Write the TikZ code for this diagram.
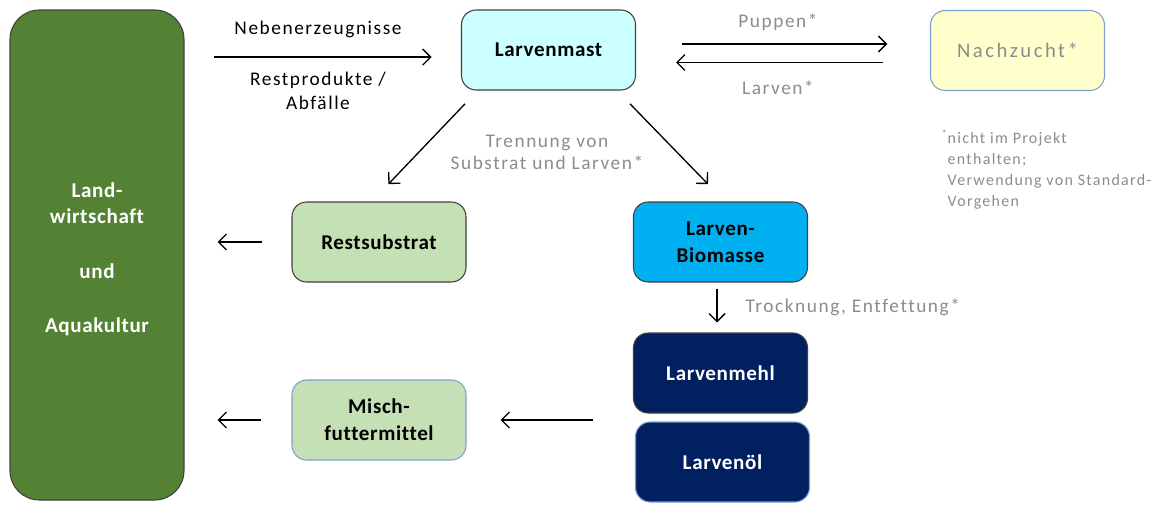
\documentclass[tikz,border=0pt]{standalone}
\usepackage{fontspec}
\setmainfont{Carlito}
\newfontfamily\thinfont[LetterSpace=8,Ligatures=NoCommon]{Carlito}
\newfontfamily\widefont[LetterSpace=12,Ligatures=NoCommon]{Carlito}
\newfontfamily\boxfont[LetterSpace=3,Ligatures=NoCommon]{Carlito}
\usetikzlibrary{arrows.meta}
\definecolor{landgreen}{HTML}{548235}
\definecolor{mastcyan}{HTML}{CCFFFF}
\definecolor{zuchtyellow}{HTML}{FFFFCC}
\definecolor{restgreen}{HTML}{C5E0B4}
\definecolor{bioblue}{HTML}{00B0F0}
\definecolor{mehlblue}{HTML}{002060}
\definecolor{boxline}{HTML}{404040}
\definecolor{lightline}{HTML}{7F9FD0}
\definecolor{labelgray}{HTML}{8C8C8C}
\tikzset{
  box/.style={draw=boxline, line width=0.8pt, rounded corners=11pt,
    minimum width=130.5pt, minimum height=60pt, align=center,
    font=\boxfont\bfseries\fontsize{15.8}{20.5}\selectfont},
  arr/.style={-{Straight Barb[length=6pt,width=12pt]}, line width=1pt},
  lbl/.style={font=\thinfont\fontsize{14.5}{18}\selectfont, align=center},
  graylbl/.style={lbl, text=labelgray},
}
\begin{document}
\begin{tikzpicture}[x=0.75pt, y=-0.75pt]
\useasboundingbox (0,0) rectangle (1154,504);

\node[box, fill=landgreen, rounded corners=22pt, minimum height=367.5pt] (land) at (97,255) {};
\node[box, draw=none, text=white, font=\boxfont\bfseries\fontsize{15.8}{19.5}\selectfont] (landtxt) at (97,259.5)
  {Land-\\wirtschaft\\[21.5pt]und\\[21.5pt]Aquakultur};
\node[box, fill=mastcyan] (mast) at (548.5,50) {Larvenmast};
\node[box, fill=zuchtyellow, draw=lightline, text=labelgray, font=\widefont\fontsize{15.5}{20.5}\selectfont] (zucht) at (1017.5,50.5) {Nachzucht*};
\node[box, fill=restgreen] (rest) at (379,242) {Restsubstrat};
\node[box, fill=bioblue] (bio) at (720.5,242) {Larven-\\Biomasse};
\node[box, fill=mehlblue, text=white] (mehl) at (720.5,373) {Larvenmehl};
\node[box, fill=mehlblue, draw=lightline, text=white] (oel) at (722.5,462) {Larvenöl};
\node[box, fill=restgreen, draw=lightline] (misch) at (379,420) {Misch-\\futtermittel};

% Zufluss
\draw[arr] ([xshift=22pt]land.east |- 0,57) -- ([xshift=-22pt]mast.west |- 0,57);
\node[lbl] (neben) at (318,29) {Nebenerzeugnisse};
\node[lbl] (abfall) at (318,91) {Restprodukte /\\Abfälle};

% Nachzucht
\draw[arr, shorten <=34.5pt, shorten >=32pt] ([yshift=4.5pt]mast.east) -- ([yshift=4.5pt]mast.east -| zucht.west);
\draw[arr, shorten <=35pt, shorten >=30pt] ([yshift=-9pt]zucht.west) -- ([yshift=-9pt]zucht.west -| mast.east);
\node[graylbl] (puppen) at (778,22) {Puppen*};
\node[graylbl] (larven) at (778,88) {Larven*};

% Trennung
\draw[arr] ([xshift=3pt,yshift=-10pt]mast.south west) -- ([xshift=7pt,yshift=13pt]rest.north);
\draw[arr] ([xshift=-4.5pt,yshift=-10pt]mast.south east) -- ([xshift=-9.4pt,yshift=13pt]bio.north);
\node[graylbl, font=\thinfont\fontsize{14.5}{16.5}\selectfont] (trenn) at (547,152) {Trennung von\\Substrat und Larven*};

\draw[arr, shorten <=21.75pt, shorten >=24.75pt] (rest.west) -- (rest.west -| land.east);
\draw[arr, shorten <=5pt, shorten >=7.5pt] ([xshift=-2.6pt]bio.south) -- ([xshift=-2.6pt]mehl.north);
\node[graylbl, anchor=west] (trock) at (741,307) {Trocknung, Entfettung*};
\draw[arr, shorten <=31.5pt, shorten >=25.5pt] (oel.west |- misch.east) -- (misch.east);
\draw[arr, shorten <=22.5pt, shorten >=24.75pt] (misch.west) -- (misch.west -| land.east);

\node[graylbl, anchor=north west, align=left, font=\thinfont\fontsize{12}{15.75}\selectfont] (fuss) at (943,125)
  {\llap{\textsuperscript{*}}nicht im Projekt\\enthalten;\\Verwendung von Standard-\\Vorgehen};
\end{tikzpicture}
\end{document}
